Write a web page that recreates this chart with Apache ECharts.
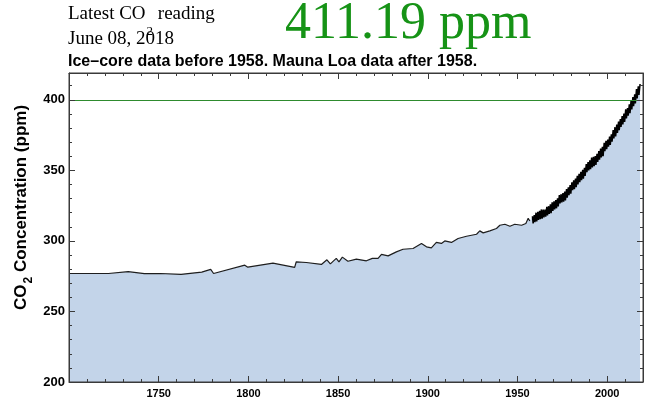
<!DOCTYPE html>
<html>
<head>
<meta charset="utf-8">
<script src="https://cdn.jsdelivr.net/npm/echarts@6.0.0/dist/echarts.min.js"></script>
<style>
    html, body { margin: 0; padding: 0; background: #fff; }
    #chart { width: 654px; height: 401px; }
</style>
</head>
<body>
<div id="chart"></div>
<script>
// ice core record
var iceYears = [1700, 1722, 1723, 1733, 1742, 1751, 1751.5, 1752, 1762.5, 1774, 1779, 1780.6,
    1798, 1799, 1799.7, 1813.7, 1825.8, 1826.7, 1832.3, 1840.7, 1843.8, 1845.7, 1849, 1850.5,
    1852.4, 1855.5, 1860.2, 1865.8, 1869.1, 1872.3, 1874.2, 1877.9, 1882.5, 1886.2, 1891.8,
    1896.5, 1899.3, 1902, 1904.8, 1907.6, 1909.5, 1913.2, 1916.9, 1921.6, 1927.2, 1929, 1930.9,
    1934.6, 1938.3, 1940.2, 1943, 1945.8, 1948.5, 1952.3, 1954.7, 1956, 1956.9];
var iceValues = [276.9, 276.9, 277.5, 278.2, 276.8, 276.9, 276.0, 277.3, 276.3, 277.9, 279.8, 276.9,
    282.8, 283.9, 281.4, 284.2, 281.2, 285.2, 284.7, 283.3, 286.6, 283.7, 287.6, 285.2,
    288.5, 285.6, 287.1, 285.9, 287.6, 287.6, 290.4, 289.4, 292.2, 294.1, 294.6,
    298.2, 295.8, 295.1, 298.9, 298.2, 300.0, 298.9, 301.7, 303.3, 304.7, 307.1, 305.7,
    307.1, 308.8, 311.1, 311.8, 310.4, 311.8, 311.1, 312.3, 316.0, 314.1];

// Mauna Loa: spring high and autumn low of each year
var mlYears = [1958, 1959, 1960, 1961, 1962, 1963, 1964, 1965, 1966, 1967, 1968, 1969,
    1970, 1971, 1972, 1973, 1974, 1975, 1976, 1977, 1978, 1979, 1980, 1981, 1982, 1983,
    1984, 1985, 1986, 1987, 1988, 1989, 1990, 1991, 1992, 1993, 1994, 1995, 1996, 1997,
    1998, 1999, 2000, 2001, 2002, 2003, 2004, 2005, 2006, 2007, 2008, 2009, 2010, 2011,
    2012, 2013, 2014, 2015, 2016, 2017, 2018];
var mlPeak = [317.5, 318.3, 320.0, 320.6, 321.3, 322.3, 322.2, 322.2, 324.1, 324.6, 325.9, 327.4,
    328.1, 328.9, 330.1, 332.5, 333.1, 333.9, 334.9, 336.8, 338.0, 339.5, 341.5, 343.0, 344.2, 346.1,
    347.6, 349.0, 350.3, 351.8, 354.4, 355.9, 357.1, 359.1, 359.6, 360.2, 361.7, 363.7, 365.4, 366.7,
    369.5, 371.0, 371.8, 374.0, 375.6, 378.5, 380.6, 382.4, 384.6, 386.4, 388.5, 390.2, 393.2, 394.2,
    396.8, 399.8, 401.9, 403.9, 407.6, 409.6, 411.2];
var mlTrough = [312.4, 313.3, 313.8, 314.8, 315.4, 315.8, 316.6, 317.2, 318.1, 319.1, 319.6, 321.2,
    322.3, 323.1, 324.5, 326.6, 327.2, 327.8, 328.6, 330.6, 332.4, 333.5, 335.9, 336.7, 338.0, 340.0,
    341.7, 343.0, 344.1, 346.0, 348.7, 349.9, 350.9, 352.1, 353.0, 353.9, 355.9, 357.6, 359.2, 360.1,
    363.6, 365.0, 366.7, 368.0, 370.3, 372.7, 374.1, 376.6, 378.5, 380.7, 382.5, 384.4, 386.8, 388.7,
    390.6, 393.1, 395.4, 397.5, 401.0, 403.4];

// tick labels shown on the axes
var yearLabels = [1750, 1800, 1850, 1900, 1950, 2000];
var ppmLabels = [200, 250, 300, 350, 400];

var latestValue = '411.19 ppm';
var latestDate = 'June 08, 2018';
var subTitle = 'Ice\u2013core data before 1958. Mauna Loa data after 1958.';
var refLevel = 400;

var icePoints = [];
for (var i = 0; i < iceYears.length; i++) {
    icePoints.push([iceYears[i], iceValues[i]]);
}
var mlPoints = [];
for (var j = 0; j < mlYears.length; j++) {
    mlPoints.push([mlYears[j] + 0.37, mlPeak[j]]);
    if (mlTrough[j] !== undefined) {
        mlPoints.push([mlYears[j] + 0.75, mlTrough[j]]);
    }
}

var measureCtx = document.createElement('canvas').getContext('2d');
function textWidth(s, font) {
    measureCtx.font = font;
    return measureCtx.measureText(s).width;
}
// one text piece, y is the baseline
function piece(s, x, y, size, font, color) {
    return {
        type: 'text', x: x, y: y - size * 0.34,
        style: {text: s, font: font, fill: color, align: 'left', verticalAlign: 'middle'}
    };
}
// main + subscript + main, returned as a list of pieces
function withSub(a, sub, b, x, y, size, subSize, subDrop, family, weight, color) {
    var f1 = weight + ' ' + size + 'px ' + family;
    var f2 = weight + ' ' + subSize + 'px ' + family;
    var w1 = textWidth(a, f1);
    var w2 = textWidth(sub, f2);
    return [
        piece(a, x, y, size, f1, color),
        piece(sub, x + w1 + 1, y + subDrop, subSize, f2, color),
        piece(b, x + w1 + w2 + 1, y, size, f1, color)
    ];
}
function onlyListed(list) {
    return function (v) {
        return list.indexOf(v) >= 0 ? String(v) : '';
    };
}

var serif = '"Liberation Serif", "Times New Roman", serif';
var sans = '"Liberation Sans", Arial, sans-serif';
var frameColor = '#3a3a3a';

var gridLeft = 69, gridRight = 11, gridTop = 73, gridBottom = 19;
var gridW = 654 - gridLeft - gridRight;
var gridH = 401 - gridTop - gridBottom;

// label axes: text only, the series live on these
function xLabelAxis() {
    return {
        type: 'value', position: 'bottom', min: 1700, max: 2020, interval: 50,
        axisLine: {show: false}, axisTick: {show: false}, minorTick: {show: false},
        splitLine: {show: false},
        axisLabel: {
            show: true, margin: 6, fontWeight: 'bold', fontSize: 11, color: '#000',
            formatter: onlyListed(yearLabels)
        }
    };
}
function yLabelAxis() {
    return {
        type: 'value', position: 'left', min: 200, max: 419, interval: 50,
        axisLine: {show: false}, axisTick: {show: false}, minorTick: {show: false},
        splitLine: {show: false},
        axisLabel: {
            show: true, margin: 4, fontWeight: 'bold', fontSize: 13, color: '#000',
            formatter: onlyListed(ppmLabels)
        }
    };
}
// frame axes: only top/right draw their ticks here, so the bottom and left
// edges reuse a top/right axis shifted across the grid with outward ticks
function xFrameAxis(offset, inside) {
    return {
        type: 'value', position: 'top', offset: offset, min: 1700, max: 2020, interval: 50, z: 5,
        axisLine: {show: true, lineStyle: {color: frameColor}},
        axisTick: {show: true, inside: inside, length: 6, lineStyle: {color: frameColor}},
        minorTick: {show: true, splitNumber: 5, length: 3, lineStyle: {color: frameColor}},
        splitLine: {show: false},
        axisLabel: {
            show: true, margin: 6, fontWeight: 'bold', fontSize: 11, color: 'rgba(0,0,0,0)',
            formatter: onlyListed(yearLabels)
        }
    };
}
function yFrameAxis(offset, inside) {
    return {
        type: 'value', position: 'right', offset: offset, min: 200, max: 419, interval: 50, z: 5,
        axisLine: {show: true, lineStyle: {color: frameColor}},
        axisTick: {show: true, inside: inside, length: 6, lineStyle: {color: frameColor}},
        minorTick: {show: true, splitNumber: 5, length: 3, lineStyle: {color: frameColor}},
        splitLine: {show: false},
        axisLabel: {
            show: true, margin: 4, fontWeight: 'bold', fontSize: 13, color: 'rgba(0,0,0,0)',
            formatter: onlyListed(ppmLabels)
        }
    };
}

var graphics = [];
graphics = graphics.concat(withSub('Latest CO', '2', ' reading', 68, 20, 19, 13, 16, serif, 'normal', '#000'));
graphics.push(piece(latestDate, 68, 45, 19, '19px ' + serif, '#000'));
graphics.push(piece(latestValue, 285, 42, 52, '52px ' + serif, '#169316'));
graphics.push(piece(subTitle, 68, 67, 16, 'bold 16px ' + sans, '#000'));
graphics.push({
    type: 'group', x: 27, y: 310, rotation: Math.PI / 2,
    children: withSub('CO', '2', ' Concentration (ppm)', 0, 0, 17, 12, 6, sans, 'bold', '#000')
});

var myChart = echarts.init(document.getElementById('chart'));
myChart.setOption({
    animation: false,
    textStyle: {fontFamily: sans},
    grid: {
        left: gridLeft, right: gridRight, top: gridTop, bottom: gridBottom, outerBoundsMode: 'none',
        show: true, borderColor: frameColor, borderWidth: 1, backgroundColor: 'transparent'
    },
    xAxis: [xLabelAxis(), xFrameAxis(0, true), xFrameAxis(-gridH, false)],
    yAxis: [yLabelAxis(), yFrameAxis(0, true), yFrameAxis(-gridW, false)],
    graphic: graphics,
    series: [
        {
            name: 'fill', type: 'line', xAxisIndex: 0, yAxisIndex: 0,
            data: icePoints.concat(mlPoints), showSymbol: false, symbol: 'none',
            lineStyle: {width: 0, opacity: 0},
            areaStyle: {color: '#c3d4e9', opacity: 1},
            z: -1, silent: true
        },
        {
            name: 'ice', type: 'line', xAxisIndex: 0, yAxisIndex: 0,
            data: icePoints, showSymbol: false, symbol: 'none',
            lineStyle: {color: '#1e1e1e', width: 1.2},
            markLine: {
                silent: true, symbol: 'none', label: {show: false},
                lineStyle: {color: '#2e8b2e', width: 1, type: 'solid'},
                data: [{yAxis: refLevel}]
            }
        },
        {
            name: 'mauna loa', type: 'line', xAxisIndex: 0, yAxisIndex: 0,
            data: mlPoints, showSymbol: false, symbol: 'none',
            lineStyle: {color: '#000', width: 1.5}
        }
    ]
});

window.onresize = function () {
    myChart.resize();
};
</script>
</body>
</html>
